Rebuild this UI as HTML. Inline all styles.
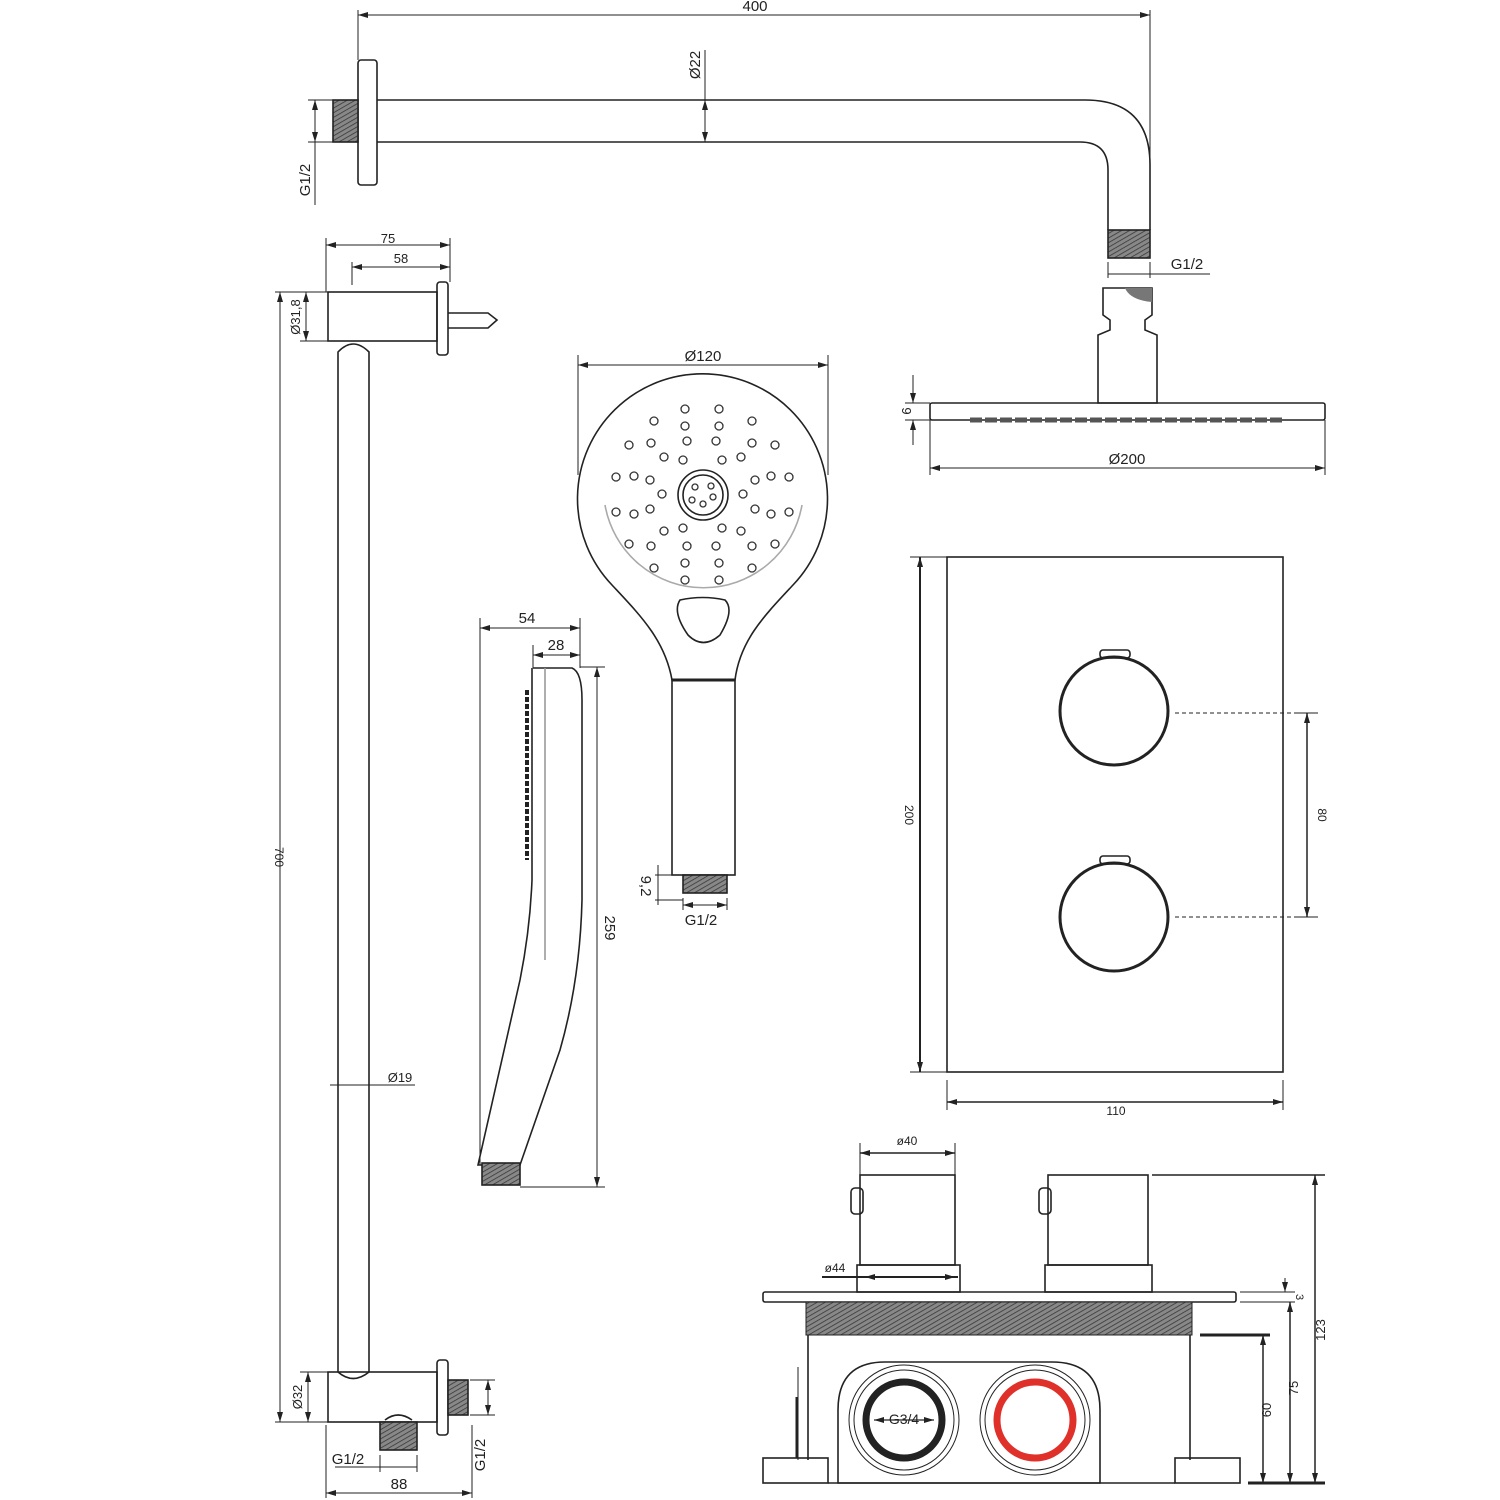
<!DOCTYPE html>
<html><head><meta charset="utf-8"><style>
html,body{margin:0;padding:0;background:#fff}
svg{display:block}
text{font-family:"Liberation Sans",sans-serif;fill:#222}
</style></head><body>
<svg width="1500" height="1500" viewBox="0 0 1500 1500" xmlns="http://www.w3.org/2000/svg">
<defs>
<marker id="a" viewBox="0 0 10 6" refX="10" refY="3" markerWidth="10" markerHeight="6" orient="auto-start-reverse" markerUnits="userSpaceOnUse"><path d="M0,0L10,3L0,6z" fill="#222"/></marker>
<pattern id="th" width="4" height="4" patternUnits="userSpaceOnUse" patternTransform="rotate(60)"><rect width="4" height="4" fill="#888"/><line x1="0" y1="0" x2="0" y2="4" stroke="#333" stroke-width="1.5"/></pattern>
</defs>
<g fill="none" stroke="#222" stroke-width="1.6">
<line x1="358" y1="15" x2="1150" y2="15" stroke-width="1" marker-start="url(#a)" marker-end="url(#a)"/>
<line x1="358" y1="10" x2="358" y2="60" stroke-width="1"/>
<line x1="1150" y1="10" x2="1150" y2="160" stroke-width="1"/>
<rect x="358" y="60" width="19" height="125" rx="3"/>
<rect x="333" y="100" width="25" height="42" fill="url(#th)"/>
<path d="M377,100 H1085 Q1150,100 1150,165 V230"/>
<path d="M377,142 H1080 Q1108,142 1108,170 V230"/>
<rect x="1108" y="230" width="42" height="28" fill="url(#th)"/>
<line x1="315" y1="100" x2="315" y2="142" stroke-width="1" marker-start="url(#a)" marker-end="url(#a)"/>
<line x1="308" y1="100" x2="333" y2="100" stroke-width="1"/><line x1="308" y1="142" x2="333" y2="142" stroke-width="1"/>
<line x1="315" y1="142" x2="315" y2="205" stroke-width="1"/>
<line x1="705" y1="50" x2="705" y2="142" stroke-width="1"/>
<line x1="705" y1="121" x2="705" y2="100" stroke-width="1" marker-end="url(#a)"/>
<line x1="705" y1="121" x2="705" y2="142" stroke-width="1" marker-end="url(#a)"/>
<line x1="1108" y1="262" x2="1108" y2="278" stroke-width="1"/><line x1="1150" y1="262" x2="1150" y2="278" stroke-width="1"/>
<line x1="1108" y1="274" x2="1210" y2="274" stroke-width="1"/>
<path d="M1103,288 H1152 V315 L1145,320 V330 L1157,335 V403 H1098 V335 L1110,330 V320 L1103,315 Z"/>
<path d="M1125,288 Q1130,300 1152,302 V288Z" fill="#777" stroke="none"/>
<rect x="930" y="403" width="395" height="17" rx="2"/>
<path d="M970,420 L1285,420" stroke-dasharray="12,3" stroke-width="5" stroke="#555"/>
<line x1="905" y1="403" x2="930" y2="403" stroke-width="1"/><line x1="905" y1="420" x2="930" y2="420" stroke-width="1"/>
<line x1="913" y1="375" x2="913" y2="403" stroke-width="1" marker-end="url(#a)"/><line x1="913" y1="445" x2="913" y2="420" stroke-width="1" marker-end="url(#a)"/>
<line x1="930" y1="420" x2="930" y2="475" stroke-width="1"/><line x1="1325" y1="420" x2="1325" y2="475" stroke-width="1"/>
<line x1="930" y1="468" x2="1325" y2="468" stroke-width="1" marker-start="url(#a)" marker-end="url(#a)"/>
<line x1="578" y1="365" x2="828" y2="365" stroke-width="1" marker-start="url(#a)" marker-end="url(#a)"/>
<line x1="578" y1="355" x2="578" y2="475" stroke-width="1"/><line x1="828" y1="355" x2="828" y2="475" stroke-width="1"/>
<path d="M672,680 C665,640 640,615 612,585 A125,125 0 1 1 793,585 C765,615 740,640 735,680 Z"/>
<path d="M605,505 A100,100 0 0 0 802,505" stroke="#aaa"/>
<path d="M680,600 Q703,595 725,600 Q735,610 720,635 Q703,650 688,635 Q672,612 680,600Z"/>
<circle cx="703" cy="495" r="25"/><circle cx="703" cy="495" r="20"/>
<rect x="672" y="680" width="63" height="195"/>
<line x1="672" y1="680" x2="735" y2="680" stroke-width="3"/>
<rect x="683" y="875" width="44" height="18" fill="url(#th)"/>
<line x1="655" y1="875" x2="683" y2="875" stroke-width="1"/><line x1="655" y1="900" x2="683" y2="900" stroke-width="1"/>
<line x1="658" y1="865" x2="658" y2="905" stroke-width="1"/>
<line x1="683" y1="898" x2="683" y2="910" stroke-width="1"/><line x1="727" y1="898" x2="727" y2="910" stroke-width="1"/>
<line x1="683" y1="905" x2="727" y2="905" stroke-width="1" marker-start="url(#a)" marker-end="url(#a)"/>
<line x1="480" y1="618" x2="480" y2="1165" stroke-width="1"/>
<line x1="580" y1="618" x2="580" y2="668" stroke-width="1"/>
<line x1="480" y1="628" x2="580" y2="628" stroke-width="1" marker-start="url(#a)" marker-end="url(#a)"/>
<line x1="533" y1="645" x2="533" y2="668" stroke-width="1"/>
<line x1="533" y1="655" x2="580" y2="655" stroke-width="1" marker-start="url(#a)" marker-end="url(#a)"/>
<line x1="580" y1="667" x2="605" y2="667" stroke-width="1"/>
<line x1="597" y1="667" x2="597" y2="1187" stroke-width="1" marker-start="url(#a)" marker-end="url(#a)"/>
<line x1="520" y1="1187" x2="605" y2="1187" stroke-width="1"/>
<path d="M533,668 H572 Q582,672 582,700 V900 Q580,980 560,1050 L520,1165 H478 L520,980 Q530,930 532,880 V668"/>
<line x1="545" y1="668" x2="545" y2="960" stroke="#999"/>
<path d="M527,690 V860" stroke-dasharray="5,2" stroke-width="4"/>
<rect x="482" y="1163" width="38" height="22" fill="url(#th)"/>
<line x1="280" y1="292" x2="280" y2="1422" stroke-width="1" marker-start="url(#a)" marker-end="url(#a)"/>
<line x1="275" y1="292" x2="328" y2="292" stroke-width="1"/><line x1="275" y1="1422" x2="328" y2="1422" stroke-width="1"/>
<line x1="306" y1="292" x2="306" y2="341" stroke-width="1" marker-start="url(#a)" marker-end="url(#a)"/>
<line x1="300" y1="341" x2="328" y2="341" stroke-width="1"/>
<line x1="326" y1="238" x2="326" y2="292" stroke-width="1"/><line x1="450" y1="238" x2="450" y2="282" stroke-width="1"/>
<line x1="352" y1="262" x2="352" y2="285" stroke-width="1"/>
<line x1="326" y1="245" x2="450" y2="245" stroke-width="1" marker-start="url(#a)" marker-end="url(#a)"/>
<line x1="352" y1="267" x2="450" y2="267" stroke-width="1" marker-start="url(#a)" marker-end="url(#a)"/>
<rect x="328" y="292" width="109" height="49"/>
<rect x="437" y="282" width="11" height="73" rx="3"/>
<path d="M448,313 H488 L497,320 L488,328 H448"/>
<path d="M338,1372 V352 Q353,336 369,352 V1372"/>
<rect x="328" y="1372" width="109" height="50"/>
<path d="M338,1372 Q353,1385 369,1372"/>
<rect x="437" y="1360" width="11" height="75" rx="3"/>
<rect x="448" y="1380" width="20" height="35" fill="url(#th)"/>
<path d="M385,1420 Q398,1410 412,1420"/>
<rect x="380" y="1422" width="37" height="28" fill="url(#th)"/>
<line x1="308" y1="1372" x2="308" y2="1422" stroke-width="1" marker-start="url(#a)" marker-end="url(#a)"/>
<line x1="300" y1="1372" x2="328" y2="1372" stroke-width="1"/>
<line x1="470" y1="1380" x2="495" y2="1380" stroke-width="1"/><line x1="470" y1="1415" x2="495" y2="1415" stroke-width="1"/>
<line x1="488" y1="1380" x2="488" y2="1415" stroke-width="1" marker-start="url(#a)" marker-end="url(#a)"/>
<line x1="472" y1="1425" x2="472" y2="1498" stroke-width="1"/><line x1="326" y1="1425" x2="326" y2="1498" stroke-width="1"/>
<line x1="326" y1="1493" x2="472" y2="1493" stroke-width="1" marker-start="url(#a)" marker-end="url(#a)"/>
<line x1="380" y1="1455" x2="380" y2="1472" stroke-width="1"/><line x1="417" y1="1455" x2="417" y2="1472" stroke-width="1"/>
<line x1="335" y1="1467" x2="417" y2="1467" stroke-width="1"/>
<line x1="330" y1="1085" x2="415" y2="1085" stroke-width="1"/>
<rect x="947" y="557" width="336" height="515"/>
<circle cx="1114" cy="711" r="54" stroke-width="3"/>
<rect x="1100" y="650" width="30" height="8" rx="3"/>
<circle cx="1114" cy="917" r="54" stroke-width="3"/>
<rect x="1100" y="856" width="30" height="8" rx="3"/>
<line x1="1175" y1="713" x2="1305" y2="713" stroke-width="1" stroke-dasharray="4,3"/>
<line x1="1175" y1="917" x2="1305" y2="917" stroke-width="1" stroke-dasharray="4,3"/>
<line x1="1298" y1="713" x2="1318" y2="713" stroke-width="1"/><line x1="1298" y1="917" x2="1318" y2="917" stroke-width="1"/>
<line x1="1307" y1="713" x2="1307" y2="917" stroke-width="1.5" marker-start="url(#a)" marker-end="url(#a)"/>
<line x1="910" y1="557" x2="947" y2="557" stroke-width="1"/><line x1="910" y1="1072" x2="947" y2="1072" stroke-width="1"/>
<line x1="920" y1="557" x2="920" y2="1072" stroke-width="2" marker-start="url(#a)" marker-end="url(#a)"/>
<line x1="947" y1="1080" x2="947" y2="1110" stroke-width="1"/><line x1="1283" y1="1080" x2="1283" y2="1110" stroke-width="1"/>
<line x1="947" y1="1102" x2="1283" y2="1102" stroke-width="1.5" marker-start="url(#a)" marker-end="url(#a)"/>
<line x1="860" y1="1143" x2="860" y2="1175" stroke-width="1"/><line x1="955" y1="1143" x2="955" y2="1175" stroke-width="1"/>
<line x1="860" y1="1153" x2="955" y2="1153" stroke-width="1.5" marker-start="url(#a)" marker-end="url(#a)"/>
<rect x="860" y="1175" width="95" height="90"/>
<rect x="851" y="1188" width="12" height="26" rx="4"/>
<rect x="857" y="1265" width="103" height="27"/>
<rect x="1048" y="1175" width="100" height="90"/>
<rect x="1039" y="1188" width="12" height="26" rx="4"/>
<rect x="1045" y="1265" width="107" height="27"/>
<line x1="822" y1="1277" x2="958" y2="1277" stroke-width="2"/>
<line x1="865" y1="1277" x2="955" y2="1277" stroke-width="1" marker-start="url(#a)" marker-end="url(#a)"/>
<rect x="763" y="1292" width="473" height="10" rx="2"/>
<rect x="806" y="1302" width="386" height="33" fill="url(#th)" stroke-width="1"/>
<path d="M808,1335 V1460 M1190,1335 V1460"/>
<line x1="798" y1="1367" x2="798" y2="1460" stroke-width="1"/>
<line x1="797" y1="1397" x2="797" y2="1458" stroke-width="3"/>
<rect x="763" y="1458" width="65" height="25"/>
<rect x="1175" y="1458" width="65" height="25"/>
<path d="M838,1483 V1410 Q838,1362 885,1362 H1052 Q1100,1362 1100,1410 V1483 Z"/>
<line x1="828" y1="1483" x2="1175" y2="1483"/>
<circle cx="904" cy="1420" r="55" stroke-width="1"/><circle cx="904" cy="1420" r="50" stroke-width="1"/>
<circle cx="904" cy="1420" r="38" stroke-width="7"/>
<line x1="874" y1="1420" x2="934" y2="1420" stroke-width="1.2" marker-start="url(#a)" marker-end="url(#a)"/>
<circle cx="1035" cy="1420" r="55" stroke-width="1"/><circle cx="1035" cy="1420" r="50" stroke-width="1"/>
<circle cx="1035" cy="1420" r="38" stroke-width="7" stroke="#e0302a"/>
<line x1="1152" y1="1175" x2="1325" y2="1175" stroke-width="1.5"/>
<line x1="1315" y1="1175" x2="1315" y2="1483" stroke-width="1.5" marker-start="url(#a)" marker-end="url(#a)"/>
<line x1="1240" y1="1292" x2="1295" y2="1292" stroke-width="1"/><line x1="1240" y1="1302" x2="1295" y2="1302" stroke-width="1"/>
<line x1="1285" y1="1278" x2="1285" y2="1292" stroke-width="1" marker-end="url(#a)"/>
<line x1="1290" y1="1302" x2="1290" y2="1483" stroke-width="1.5" marker-start="url(#a)" marker-end="url(#a)"/>
<line x1="1200" y1="1335" x2="1270" y2="1335" stroke-width="3"/>
<line x1="1263" y1="1335" x2="1263" y2="1483" stroke-width="1.5" marker-start="url(#a)" marker-end="url(#a)"/>
<line x1="1248" y1="1483" x2="1325" y2="1483" stroke-width="3"/>
</g>
<g fill="none" stroke="#333" stroke-width="1.3">
<circle cx="685" cy="409" r="4"/><circle cx="719" cy="409" r="4"/>
<circle cx="654" cy="421" r="4"/><circle cx="752" cy="421" r="4"/>
<circle cx="685" cy="426" r="4"/><circle cx="719" cy="426" r="4"/>
<circle cx="629" cy="445" r="4"/><circle cx="651" cy="443" r="4"/><circle cx="687" cy="441" r="4"/><circle cx="716" cy="441" r="4"/><circle cx="752" cy="443" r="4"/><circle cx="775" cy="445" r="4"/>
<circle cx="664" cy="457" r="4"/><circle cx="683" cy="460" r="4"/><circle cx="722" cy="460" r="4"/><circle cx="741" cy="457" r="4"/>
<circle cx="616" cy="477" r="4"/><circle cx="634" cy="476" r="4"/><circle cx="650" cy="480" r="4"/><circle cx="755" cy="480" r="4"/><circle cx="771" cy="476" r="4"/><circle cx="789" cy="477" r="4"/>
<circle cx="662" cy="494" r="4"/><circle cx="743" cy="494" r="4"/>
<circle cx="616" cy="512" r="4"/><circle cx="634" cy="514" r="4"/><circle cx="650" cy="509" r="4"/><circle cx="755" cy="509" r="4"/><circle cx="771" cy="514" r="4"/><circle cx="789" cy="512" r="4"/>
<circle cx="664" cy="531" r="4"/><circle cx="683" cy="528" r="4"/><circle cx="722" cy="528" r="4"/><circle cx="741" cy="531" r="4"/>
<circle cx="629" cy="544" r="4"/><circle cx="651" cy="546" r="4"/><circle cx="687" cy="546" r="4"/><circle cx="716" cy="546" r="4"/><circle cx="752" cy="546" r="4"/><circle cx="775" cy="544" r="4"/>
<circle cx="654" cy="568" r="4"/><circle cx="685" cy="563" r="4"/><circle cx="719" cy="563" r="4"/><circle cx="752" cy="568" r="4"/>
<circle cx="685" cy="580" r="4"/><circle cx="719" cy="580" r="4"/>
<circle cx="695" cy="487" r="3"/><circle cx="711" cy="486" r="3"/><circle cx="692" cy="500" r="3"/><circle cx="703" cy="504" r="3"/><circle cx="713" cy="497" r="3"/>
</g>
<g font-size="15">
<text x="755" y="11" text-anchor="middle">400</text>
<text x="1187" y="269" text-anchor="middle">G1/2</text>
<text x="1127" y="464" text-anchor="middle">Ø200</text>
<text x="703" y="361" text-anchor="middle">Ø120</text>
<text x="527" y="623" text-anchor="middle">54</text>
<text x="556" y="650" text-anchor="middle">28</text>
<text x="701" y="925" text-anchor="middle">G1/2</text>
<text x="388" y="243" text-anchor="middle" font-size="13">75</text>
<text x="401" y="263" text-anchor="middle" font-size="13">58</text>
<text x="400" y="1082" text-anchor="middle" font-size="13">Ø19</text>
<text x="348" y="1464" text-anchor="middle">G1/2</text>
<text x="399" y="1489" text-anchor="middle">88</text>
<text x="1116" y="1115" text-anchor="middle" font-size="12">110</text>
<text x="907" y="1145" text-anchor="middle" font-size="12">ø40</text>
<text x="835" y="1272" text-anchor="middle" font-size="12">ø44</text>
<text x="904" y="1424" text-anchor="middle" font-size="14">G3/4</text>
<text transform="translate(310,180) rotate(-90)" text-anchor="middle">G1/2</text>
<text transform="translate(700,65) rotate(-90)" text-anchor="middle">Ø22</text>
<text transform="translate(902,411) rotate(90)" text-anchor="middle" font-size="13">9</text>
<text transform="translate(641,886) rotate(90)" text-anchor="middle">9,2</text>
<text transform="translate(605,928) rotate(90)" text-anchor="middle">259</text>
<text transform="translate(275,857) rotate(90)" text-anchor="middle" font-size="12">700</text>
<text transform="translate(300,317) rotate(-90)" text-anchor="middle" font-size="13">Ø31,8</text>
<text transform="translate(302,1397) rotate(-90)" text-anchor="middle" font-size="13">Ø32</text>
<text transform="translate(485,1455) rotate(-90)" text-anchor="middle">G1/2</text>
<text transform="translate(905,815) rotate(90)" text-anchor="middle" font-size="12">200</text>
<text transform="translate(1318,815) rotate(90)" text-anchor="middle" font-size="12">80</text>
<text transform="translate(1296,1297) rotate(90)" text-anchor="middle" font-size="11">3</text>
<text transform="translate(1325,1330) rotate(-90)" text-anchor="middle" font-size="13">123</text>
<text transform="translate(1298,1388) rotate(-90)" text-anchor="middle" font-size="13">75</text>
<text transform="translate(1271,1410) rotate(-90)" text-anchor="middle" font-size="13">60</text>
</g>
</svg>
</body></html>
